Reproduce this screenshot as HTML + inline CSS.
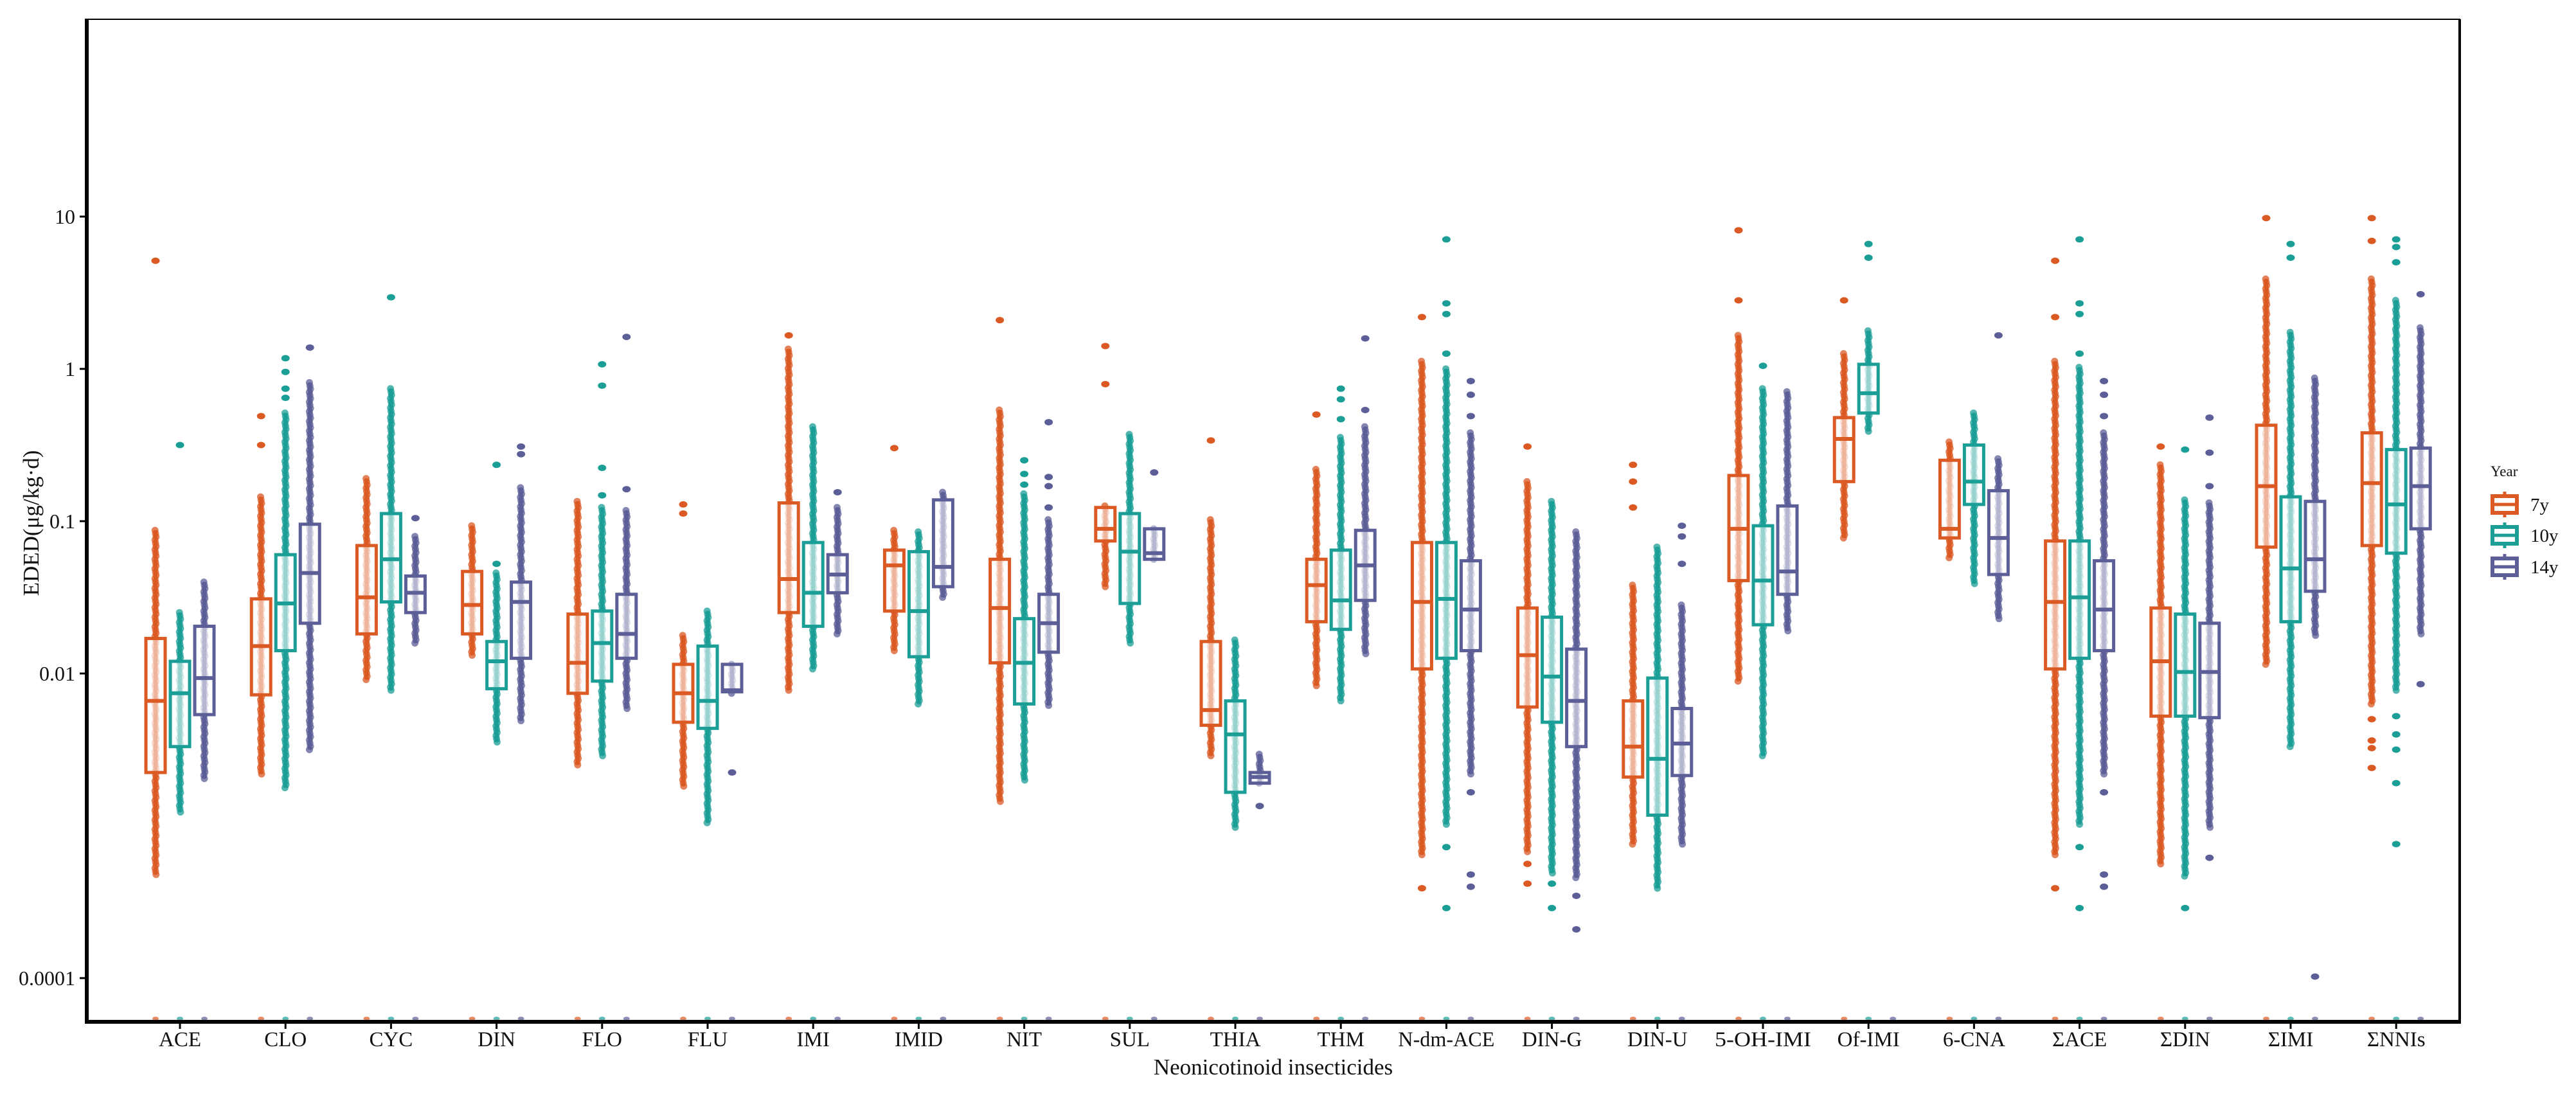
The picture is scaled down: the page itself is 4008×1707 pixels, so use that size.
<!DOCTYPE html>
<html><head><meta charset="utf-8">
<style>
html,body{margin:0;padding:0;background:#fff;}
svg{display:block;font-family:"Liberation Serif","Times New Roman",serif;}
</style></head>
<body>
<svg id="chart" width="4008" height="1707" viewBox="0 0 4008 1707" xmlns="http://www.w3.org/2000/svg">
<rect x="0" y="0" width="4008" height="1707" fill="#fff"/>
<g id="marks"></g>
<g id="axes"></g>
</svg>
<script>
// ---- Data (values are log10 of EDED, µg/kg·d) ----
const categories = ["ACE","CLO","CYC","DIN","FLO","FLU","IMI","IMID","NIT","SUL","THIA","THM","N-dm-ACE","DIN-G","DIN-U","5-OH-IMI","Of-IMI","6-CNA","ΣACE","ΣDIN","ΣIMI","ΣNNIs"];
const years = ["7y","10y","14y"];
const yTickValues = [1, -0, -1, -2, -4];
const yTickLabels = ["10","1","0.1","0.01","0.0001"];

// per year: [whiskerLow, Q1, median, Q3, whiskerHigh] in log10
const stats7y = [
 [-3.32,-2.65,-2.18,-1.77,-1.06],[-2.66,-2.14,-1.82,-1.51,-0.84],[-2.04,-1.74,-1.50,-1.16,-0.72],[-1.88,-1.74,-1.55,-1.33,-1.03],
 [-2.60,-2.13,-1.93,-1.61,-0.87],[-2.74,-2.32,-2.13,-1.94,-1.75],[-2.11,-1.60,-1.38,-0.88,0.13],[-1.85,-1.59,-1.29,-1.19,-1.06],
 [-2.84,-1.93,-1.57,-1.25,-0.27],[-1.43,-1.13,-1.05,-0.91,-0.90],[-2.54,-2.34,-2.24,-1.79,-0.99],[-2.08,-1.66,-1.42,-1.25,-0.66],
 [-3.19,-1.97,-1.53,-1.14,0.05],[-3.17,-2.22,-1.88,-1.57,-0.74],[-3.12,-2.68,-2.48,-2.18,-1.42],[-2.05,-1.39,-1.05,-0.70,0.22],
 [-1.11,-0.74,-0.46,-0.32,0.10],[-1.24,-1.11,-1.05,-0.60,-0.48],[-3.19,-1.97,-1.53,-1.13,0.05],[-3.25,-2.28,-1.92,-1.57,-0.63],
 [-1.94,-1.17,-0.77,-0.37,0.59],[-2.20,-1.16,-0.75,-0.42,0.59]];
const stats10y = [
 [-2.91,-2.48,-2.13,-1.92,-1.60],[-2.75,-1.85,-1.54,-1.22,-0.29],[-2.11,-1.53,-1.25,-0.95,-0.13],[-2.45,-2.10,-1.92,-1.79,-1.34],
 [-2.54,-2.05,-1.80,-1.59,-0.91],[-2.98,-2.36,-2.18,-1.82,-1.59],[-1.97,-1.69,-1.47,-1.14,-0.38],[-2.20,-1.89,-1.59,-1.20,-1.07],
 [-2.70,-2.20,-1.93,-1.64,-0.82],[-1.80,-1.54,-1.20,-0.95,-0.43],[-3.01,-2.78,-2.40,-2.18,-1.78],[-2.18,-1.71,-1.52,-1.19,-0.45],
 [-2.99,-1.90,-1.51,-1.14,0.00],[-3.31,-2.32,-2.02,-1.63,-0.87],[-3.41,-2.93,-2.56,-2.03,-1.17],[-2.54,-1.68,-1.39,-1.03,-0.13],
 [-0.41,-0.29,-0.16,0.03,0.25],[-1.41,-0.89,-0.74,-0.50,-0.29],[-2.99,-1.90,-1.50,-1.13,0.01],[-3.33,-2.28,-1.99,-1.61,-0.86],
 [-2.48,-1.66,-1.31,-0.84,0.24],[-2.11,-1.21,-0.89,-0.53,0.45]];
const stats14y = [
 [-2.69,-2.27,-2.03,-1.69,-1.40],[-2.50,-1.67,-1.34,-1.02,-0.09],[-1.80,-1.60,-1.47,-1.36,-1.10],[-2.31,-1.90,-1.53,-1.40,-0.78],
 [-2.23,-1.90,-1.74,-1.48,-0.93],[-2.13,-2.12,-2.11,-1.94,-1.94],[-1.74,-1.47,-1.35,-1.22,-0.91],[-1.50,-1.43,-1.30,-0.86,-0.81],
 [-2.21,-1.86,-1.67,-1.48,-0.99],[-1.25,-1.25,-1.21,-1.05,-1.05],[-2.72,-2.72,-2.68,-2.65,-2.53],[-1.87,-1.52,-1.29,-1.06,-0.38],
 [-2.66,-1.85,-1.58,-1.26,-0.42],[-3.34,-2.48,-2.18,-1.84,-1.07],[-3.12,-2.67,-2.46,-2.23,-1.55],[-1.72,-1.48,-1.33,-0.90,-0.15],
 null,[-1.64,-1.35,-1.11,-0.80,-0.59],[-2.66,-1.85,-1.58,-1.26,-0.42],[-3.01,-2.29,-1.99,-1.67,-0.88],
 [-1.75,-1.46,-1.25,-0.87,-0.06],[-1.74,-1.05,-0.77,-0.52,0.27]];

const outliers7y = [[0.71],[-0.31,-0.50],[],[],[],[-0.89,-0.95],[0.22],[-0.52],[0.32],[0.15,-0.10],[-0.47],[-0.30],
 [0.34,-3.41],[-0.51,-3.25,-3.38],[-0.63,-0.74,-0.91],[0.91,0.45],[0.45],[],[0.71,0.34,-3.41],[-0.51],[0.99],[0.99,0.84,-2.30,-2.44,-2.49,-2.62]];
const outliers10y = [[-0.50],[0.07,-0.02,-0.13,-0.19],[0.47],[-1.28,-0.63],[0.03,-0.11,-0.65,-0.83],[],[],[],[-0.60,-0.69,-0.76],[],[],[-0.13,-0.20,-0.33],
 [0.85,0.43,0.36,0.10,-3.14,-3.54],[-3.38,-3.54],[],[0.02],[0.82,0.73],[],[0.85,0.43,0.36,0.10,-3.14,-3.54],[-0.53,-3.54],[0.82,0.73],[0.85,0.80,0.70,-2.28,-2.40,-2.50,-2.72,-3.12]];
const outliers14y = [[],[0.14],[-0.98],[-0.51,-0.56],[0.21,-0.79],[-2.65],[-0.81],[],[-0.35,-0.71,-0.77,-0.91],[-0.68],[-2.87],[0.20,-0.27],
 [-0.08,-0.17,-0.31,-2.78,-3.32,-3.40],[-3.46,-3.68],[-1.03,-1.10,-1.28],[],[],[0.22],[-0.08,-0.17,-0.31,-2.78,-3.32,-3.40],[-0.32,-0.55,-0.77,-3.21],[-3.99],[0.49,-2.07]];

// ---- Layout ----
const X0 = 135, X1 = 3827, Y0 = 30, Y1 = 1590;
const CAT0 = 280, CATSTEP = 164.2, DODGE = 38, BOXW = 30;
const Y_ONE = 574, DECADE = 237;
const colors = ["#DB5A24","#1B9E96","#5C5E97"];
const NS = "http://www.w3.org/2000/svg";
function yScale(l){ return Y_ONE - DECADE*l; }
function xScale(i){ return CAT0 + i*CATSTEP; }
function mk(tag, attrs, parent){ const e=document.createElementNS(NS,tag); for(const k in attrs) e.setAttribute(k,attrs[k]); parent.appendChild(e); return e; }

const marks = document.getElementById('marks');
const axes = document.getElementById('axes');
const allStats = [stats7y, stats10y, stats14y];
const allOut = [outliers7y, outliers10y, outliers14y];

for(let c=0;c<categories.length;c++){
  for(let yI=0;yI<3;yI++){
    const cx = xScale(c) + (yI-1)*DODGE;
    const col = colors[yI];
    const g = mk('g',{},marks);
    
    
    const z = mk('ellipse',{cx:cx,cy:Y1-5,rx:5,ry:3,fill:col,opacity:0.7},g);
    
    
    const s = allStats[yI][c];
    if(!s) continue;
    const [lo,q1,md,q3,hi] = s;
    const yLo = yScale(lo), yHi = yScale(hi);
    const n = Math.max(2, Math.round((yLo-yHi)/5));
    for(let k=0;k<=n;k++){
      const py = yHi + (yLo-yHi)*k/n;
      const inBox = py>=yScale(q3) && py<=yScale(q1);
      const jx = ((k%3)-1)*0.8;
      const p = mk('circle',{cx:cx+jx,cy:py,r:5.5,fill:col,opacity:inBox?0.45:0.75},g);
      
      
    }
    const w = mk('line',{x1:cx,x2:cx,y1:yHi,y2:yLo,stroke:col,'stroke-width':6},g);
    
    
    const b = mk('rect',{x:cx-BOXW/2,y:yScale(q3),width:BOXW,height:Math.max(1,yScale(q1)-yScale(q3)),fill:'rgba(255,255,255,0.55)',stroke:col,'stroke-width':5},g);
    
    
    const m = mk('line',{x1:cx-BOXW/2,x2:cx+BOXW/2,y1:yScale(md),y2:yScale(md),stroke:col,'stroke-width':6},g);
    
    
    for(const o of allOut[yI][c]){
      const od = mk('ellipse',{cx:cx,cy:yScale(o),rx:6.5,ry:5,fill:col},g);
      
      
    }
  }
}

// ---- Axes ----
const border = mk('rect',{x:X0,y:Y0,width:X1-X0,height:Y1-Y0,fill:'none',stroke:'#000','stroke-width':2},axes);


const rb = mk('line',{x1:X1,x2:X1,y1:Y0,y2:Y1,stroke:'#000','stroke-width':4},axes);


const ya = mk('line',{x1:X0,x2:X0,y1:Y0-1,y2:Y1+3,stroke:'#000','stroke-width':6},axes);


const xa = mk('line',{x1:X0-3,x2:X1+2,y1:Y1,y2:Y1,stroke:'#000','stroke-width':6},axes);



for(let i=0;i<yTickValues.length;i++){
  const y = yScale(yTickValues[i]);
  const t = mk('line',{x1:X0-11,x2:X0,y1:y,y2:y,stroke:'#000','stroke-width':3},axes);
  
  
  const tx = mk('text',{x:X0-18,y:y+11,'text-anchor':'end','font-size':32,fill:'#111'},axes);
  tx.textContent = yTickLabels[i];
  
  
}
for(let c=0;c<categories.length;c++){
  const x = xScale(c);
  const t = mk('line',{x1:x,x2:x,y1:Y1,y2:Y1+11,stroke:'#000','stroke-width':3},axes);
  
  
  const tx = mk('text',{x:x,y:Y1+38,'text-anchor':'middle','font-size':33,fill:'#111'},axes);
  if(categories[c].length>6){ tx.setAttribute('textLength','150'); tx.setAttribute('lengthAdjust','spacingAndGlyphs'); }
  tx.textContent = categories[c];
  
  
}
const xt = mk('text',{x:(X0+X1)/2,y:1672,'text-anchor':'middle','font-size':35,fill:'#111'},axes);
xt.textContent = 'Neonicotinoid insecticides';


const yt = mk('text',{x:0,y:0,'text-anchor':'middle','font-size':35,fill:'#111',transform:'translate(60,814) rotate(-90)'},axes);
yt.textContent = 'EDED(μg/kg·d)';



// ---- Legend ----
const lg = mk('g',{},axes);


const lt = mk('text',{x:3875,y:741,'font-size':23,fill:'#111'},lg);
lt.textContent = 'Year';


const keyY = [785,833,882];
for(let i=0;i<3;i++){
  const e = mk('g',{},lg);
  
  
  mk('line',{x1:3897,x2:3897,y1:keyY[i]-20,y2:keyY[i]+20,stroke:colors[i],'stroke-width':5},e);
  mk('rect',{x:3878,y:keyY[i]-13,width:38,height:26,fill:'#fff',stroke:colors[i],'stroke-width':6},e);
  mk('line',{x1:3878,x2:3916,y1:keyY[i],y2:keyY[i],stroke:colors[i],'stroke-width':5},e);
  const t = mk('text',{x:3937,y:keyY[i]+10,'font-size':29,fill:'#111'},e);
  t.textContent = years[i];
  
  
}
</script>
</body></html>
